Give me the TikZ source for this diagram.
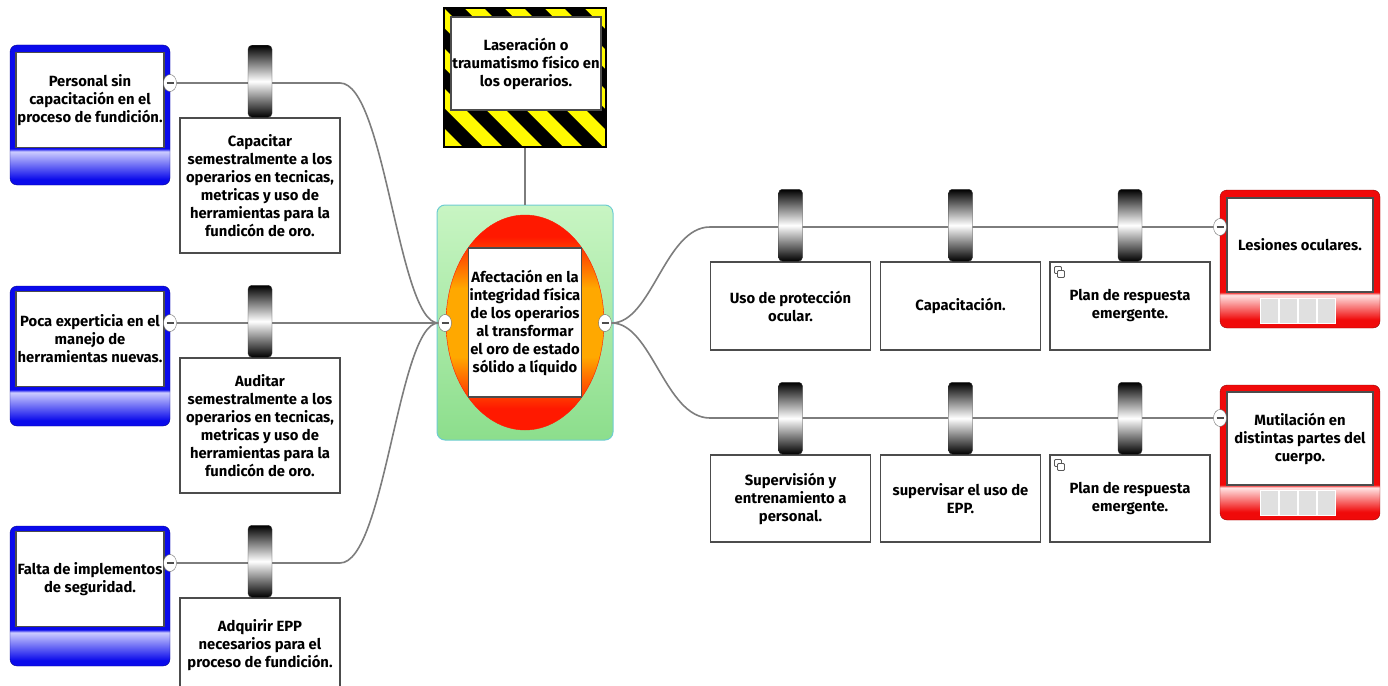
\documentclass[tikz,border=0pt]{standalone}
\usepackage{fontspec}
\setmainfont{Fira Sans}
\usetikzlibrary{shapes.geometric,positioning}

\definecolor{causeblue}{RGB}{10,10,235}
\definecolor{causelight}{RGB}{205,205,255}
\definecolor{consred}{RGB}{240,10,10}
\definecolor{conslight}{RGB}{255,228,228}
\definecolor{linegray}{RGB}{125,125,125}
\definecolor{eventgreenA}{RGB}{200,245,195}
\definecolor{eventgreenB}{RGB}{140,222,140}
\definecolor{eventedge}{RGB}{110,205,210}
\definecolor{eventred}{RGB}{255,25,0}
\definecolor{eventorange}{RGB}{255,168,0}
\definecolor{hazyellow}{RGB}{255,250,0}

\pgfdeclareverticalshading{causeshade}{100bp}{color(0bp)=(causeblue); color(27bp)=(causeblue); color(37bp)=(causelight); color(38bp)=(causeblue); color(100bp)=(causeblue)}
\pgfdeclareverticalshading{consshade}{100bp}{color(0bp)=(consred); color(28bp)=(consred); color(37bp)=(conslight); color(38bp)=(consred); color(100bp)=(consred)}
\pgfdeclareverticalshading{ovalshade}{100bp}{color(0bp)=(eventred); color(30bp)=(eventred); color(42bp)=(eventorange); color(58bp)=(eventorange); color(70bp)=(eventred); color(100bp)=(eventred)}

\tikzset{
  every node/.style={font=\fontsize{14.8}{18}\selectfont\bfseries},
  causebox/.style={draw=causeblue!60!black, rounded corners=7pt, shading=causeshade,
    minimum width=160, minimum height=140, inner sep=0},
  consbox/.style={draw=consred!60!black, rounded corners=7pt, shading=consshade,
    minimum width=160, minimum height=138, inner sep=0},
  card/.style={draw=black!70, line width=1.1pt, fill=white, align=center, inner sep=1pt, text=black},
  textbox/.style={card, minimum width=148, minimum height=95},
  measure/.style={card, minimum width=160},
  barrier/.style={draw=black!80, rounded corners=4pt, top color=black, bottom color=black,
    middle color=white, minimum width=24, minimum height=72, inner sep=0},
  toggle/.style={ellipse, draw=black!60, fill=white, minimum width=13, minimum height=17, inner sep=0,
    path picture={\draw[line width=1.5pt, black!70]
      ([xshift=-3.5pt]path picture bounding box.center) -- ([xshift=3.5pt]path picture bounding box.center);}},
  link/.style={draw=linegray, line width=1.6pt},
  hazard/.style={draw=black, line width=2pt, fill=hazyellow, minimum width=162, minimum height=139, inner sep=0,
    path picture={\foreach \s in {-8,...,8}
      \fill[black] ([xshift=\s*40pt]path picture bounding box.north west) -- ++(20pt,0)
        -- ++(220pt,-220pt) -- ++(-20pt,0) -- cycle;}},
  eventbox/.style={draw=eventedge, line width=1pt, rounded corners=8pt, top color=eventgreenA,
    bottom color=eventgreenB, minimum width=176, minimum height=235, inner sep=0},
  eventoval/.style={ellipse, draw=eventred, shading=ovalshade, minimum width=158, minimum height=215, inner sep=0},
  copyicon/.style={draw=black!65, fill=white, line width=0.9pt, rounded corners=1pt}
}

\begin{document}
\begin{tikzpicture}[x=1pt,y=-1pt]
\clip (0,0) rectangle (1388,685);

% top event
\node[eventbox] (ev) at (525,322.5) {};
\node[eventoval] (ov) at (ev.center) {};
\node[card, minimum width=112, minimum height=149] (evtext) at (ev.center)
  {Afectación en la\\integridad física\\de los operarios\\al transformar\\el oro de estado\\sólido a líquido};
\node[toggle] (lt) at (445,323) {};
\node[toggle] (rt) at (605,323) {};

% hazard
\node[hazard] (hz) at (525,77.5) {};
\node[card, minimum width=150, minimum height=93] (hztext) at (526,63.5)
  {Laseración o\\traumatismo físico en\\los operarios.};
\draw[link, line width=1.2pt] (hz) -- (ev);

% causes
\node[causebox] (c1) at (90,115) {};
\node[textbox] (c1text) at (90,100) {Personal sin\\capacitación en el\\proceso de fundición.};
\node[causebox] (c2) at (90,356) {};
\node[textbox] (c2text) at (90,339) {Poca experticia en el\\manejo de\\herramientas nuevas.};
\node[causebox] (c3) at (90,596) {};
\node[textbox] (c3text) at (90,579) {Falta de implementos\\de seguridad.};
\node[toggle] (c1t) at (170,83) {};
\node[toggle] (c2t) at (170,323) {};
\node[toggle] (c3t) at (170,563) {};

% consequences
\node[consbox] (r1) at (1300,259) {};
\node[textbox, minimum width=146, minimum height=94] (r1text) at (1300,245) {Lesiones oculares.};
\node[consbox, minimum height=135] (r2) at (1300,452.5) {};
\node[textbox, minimum width=146, minimum height=93] (r2text) at (1300,438.5)
  {Mutilación en\\distintas partes del\\cuerpo.};
\foreach \n in {r1,r2}
  \foreach \i in {0,...,3}
    \draw[white, fill=black!12, shift={(\n.south)}] (-40+19*\i,-30) rectangle ++(18,25);
\node[toggle] (r1t) at (1220,227) {};
\node[toggle] (r2t) at (1220,418) {};

% lines
\coordinate (k1) at (340,83);
\coordinate (k3) at (340,563);
\coordinate (k4) at (710,227);
\coordinate (k5) at (710,418);
\draw[link] (c1t) -- (k1) .. controls +(45,0) and +(-40,0) .. (lt.west);
\draw[link] (c2t) -- (lt);
\draw[link] (c3t) -- (k3) .. controls +(45,0) and +(-40,0) .. (lt.west);
\draw[link] (rt.east) .. controls +(40,0) and +(-45,0) .. (k4) -- (r1t);
\draw[link] (rt.east) .. controls +(40,0) and +(-45,0) .. (k5) -- (r2t);

% barriers, left
\node[measure, minimum height=135] (m1) at (260,185.5)
  {Capacitar\\semestralmente a los\\operarios en tecnicas,\\metricas y uso de\\herramientas para la\\fundicón de oro.};
\node[measure, minimum height=135] (m2) at (260,425.5)
  {Auditar\\semestralmente a los\\operarios en tecnicas,\\metricas y uso de\\herramientas para la\\fundicón de oro.};
\node[measure, minimum height=94] (m3) at (260,645)
  {Adquirir EPP\\necesarios para el\\proceso de fundición.};
\node[barrier, above=0pt of m1] (b1) {};
\node[barrier, above=0pt of m2] (b2) {};
\node[barrier, above=0pt of m3] (b3) {};

% barriers, right
\node[measure, minimum height=88] (p1) at (790.5,306) {Uso de protección\\ocular.};
\node[measure, minimum height=88] (p2) at (960.5,306) {Capacitación.};
\node[measure, minimum height=88] (p3) at (1130,306) {Plan de respuesta\\emergente.};
\node[measure, minimum height=87] (q1) at (790.5,498.5) {Supervisión y\\entrenamiento a\\personal.};
\node[measure, minimum height=87] (q2) at (960.5,498.5) {supervisar el uso de\\EPP.};
\node[measure, minimum height=87] (q3) at (1130,498.5) {Plan de respuesta\\emergente.};
\foreach \n in {p1,p2,p3,q1,q2,q3}
  \node[barrier, above=0pt of \n] (b\n) {};
\foreach \n in {p3,q3} {
  \draw[copyicon, shift={(\n.north west)}] (5,5) rectangle (12,12);
  \draw[copyicon, shift={(\n.north west)}] (8,9) rectangle (15,16);
}
\end{tikzpicture}
\end{document}
